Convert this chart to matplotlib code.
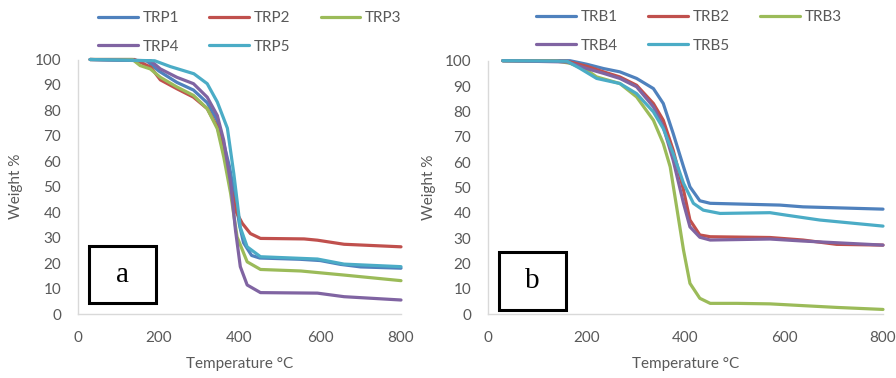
import matplotlib
matplotlib.use('Agg')
import matplotlib.pyplot as plt
from matplotlib.patches import Rectangle

# ---- panel a data (temperature °C, weight %) ----
trp1_t = [30, 170, 200, 245, 286, 320, 345, 361, 375, 390, 400, 410, 430, 450, 550, 600, 650, 700, 800]
trp1_w = [100, 99.5, 95.5, 91, 88, 83, 76, 67, 58, 45, 35, 28, 23, 22, 21.5, 21, 19.5, 18.5, 18]
trp2_t = [30, 140, 180, 204, 245, 286, 320, 345, 361, 378, 392, 407, 427, 452, 560, 593, 659, 800]
trp2_w = [100, 100, 97, 92, 88.5, 85.2, 80.7, 73.5, 64, 50, 40, 35.6, 31.6, 29.7, 29.5, 29, 27.4, 26.4]
trp3_t = [30, 135, 154, 179, 204, 245, 286, 320, 345, 361, 378, 394, 419, 452, 552, 659, 800]
trp3_w = [100, 100, 97.6, 96.3, 93, 89.2, 85.9, 80.7, 72.8, 61.7, 47.4, 30.3, 20.5, 17.5, 16.9, 15.3, 13.1]
trp4_t = [30, 180, 204, 245, 286, 320, 345, 361, 378, 390, 402, 419, 452, 593, 659, 800]
trp4_w = [100, 99.5, 96.3, 93, 90.5, 85.2, 78, 68.2, 51.4, 33, 18.6, 11.4, 8.4, 8.2, 6.8, 5.5]
trp5_t = [30, 190, 229, 287, 320, 345, 370, 386, 402, 419, 452, 593, 659, 800]
trp5_w = [100, 99.5, 97.2, 94.4, 90.5, 83.3, 73, 55, 34, 26.4, 22.5, 21.6, 19.6, 18.6]

# ---- panel b data ----
trb1_t = [30, 166, 200, 234, 267, 301, 335, 355, 375, 396, 409, 429, 450, 591, 638, 800]
trb1_w = [100, 100, 98.6, 96.9, 95.6, 93, 89, 83.1, 71.3, 58.1, 50.2, 44.7, 43.7, 43, 42.3, 41.4]
trb2_t = [30, 160, 200, 234, 267, 301, 335, 355, 375, 396, 409, 429, 450, 571, 638, 706, 800]
trb2_w = [100, 99.8, 97.8, 95.6, 93.6, 90.3, 83.1, 76.5, 64.7, 48.9, 37.1, 31.2, 30.5, 30.2, 29.2, 27.5, 27.2]
trb3_t = [30, 140, 166, 200, 220, 267, 301, 335, 355, 369, 382, 396, 409, 429, 450, 504, 571, 638, 706, 800]
trb3_w = [100, 99.8, 99, 96.3, 93.6, 91, 85.7, 76.5, 67.3, 58.1, 42.3, 25.2, 12.1, 6.2, 4.2, 4.2, 4, 3.3, 2.6, 1.8]
trb4_t = [30, 160, 200, 234, 267, 301, 335, 355, 375, 396, 409, 429, 450, 571, 638, 800]
trb4_w = [100, 99.5, 96.9, 95, 93, 89.7, 81.8, 73.9, 60.7, 43.7, 34.4, 30.3, 29.2, 29.6, 28.8, 27.2]
trb5_t = [30, 160, 186, 220, 267, 301, 335, 355, 375, 396, 416, 436, 470, 571, 605, 672, 800]
trb5_w = [100, 99.8, 97, 93, 91, 87, 79.8, 73.2, 63.4, 51.6, 43.7, 41, 39.7, 40, 39, 37.1, 34.7]

labels_a = ['TRP1', 'TRP2', 'TRP3', 'TRP4', 'TRP5']
labels_b = ['TRB1', 'TRB2', 'TRB3', 'TRB4', 'TRB5']
colors = ['#4F81BD', '#C0504D', '#9BBB59', '#8064A2', '#4BACC6']
x_ticks = [0, 200, 400, 600, 800]
y_ticks = [0, 10, 20, 30, 40, 50, 60, 70, 80, 90, 100]

txt = '#595959'
fs = 11
plt.rcParams['font.family'] = ['Lato', 'DejaVu Sans']
plt.rcParams['font.size'] = fs

fig = plt.figure(figsize=(8.96, 3.78), dpi=100)
W, H = 896, 378
ax_a = fig.add_axes([78 / W, 1 - 314 / H, 323 / W, 254.5 / H])
ax_b = fig.add_axes([488 / W, 1 - 314 / H, 395 / W, 253.3 / H])

series_a = [(trp1_t, trp1_w), (trp2_t, trp2_w), (trp3_t, trp3_w), (trp4_t, trp4_w), (trp5_t, trp5_w)]
series_b = [(trb1_t, trb1_w), (trb2_t, trb2_w), (trb3_t, trb3_w), (trb4_t, trb4_w), (trb5_t, trb5_w)]

def draw_panel(ax, series, labels, letter, box, ylab_x, legend_xy):
    handles = []
    for (t, w), lab, c in zip(series, labels, colors):
        h, = ax.plot(t, w, color=c, lw=2.3, label=lab, solid_joinstyle='round',
                     solid_capstyle='round', clip_on=False)
        handles.append(h)
    ax.set_xlim(0, 800)
    ax.set_ylim(0, 100)
    ax.set_xticks(x_ticks)
    ax.set_yticks(y_ticks)
    ax.tick_params(length=0, colors=txt, labelsize=fs)
    ax.tick_params(axis='x', pad=12)
    ax.tick_params(axis='y', pad=12)
    for s in ['top', 'right']:
        ax.spines[s].set_visible(False)
    for s in ['left', 'bottom']:
        ax.spines[s].set_color('#D9D9D9')
        ax.spines[s].set_linewidth(1)
    ax.set_xlabel('Temperature °C', color=txt, fontsize=fs)
    ax.set_ylabel('Weight %', color=txt, fontsize=fs)
    ax.xaxis.set_label_coords(0.5, -0.17)
    ax.yaxis.set_label_coords(ylab_x, 0.5)
    # letter box
    ax.add_patch(Rectangle((box[0], box[1]), box[2], box[3], transform=ax.transAxes,
                           fill=False, ec='black', lw=2.2, zorder=5))
    ax.text(box[0] + box[2] / 2, box[1] + box[3] / 2, letter, transform=ax.transAxes,
            ha='center', va='center', fontsize=21, family='Liberation Serif', color='black')
    order = [0, 3, 1, 4, 2]
    fig.legend([handles[i] for i in order], [labels[i] for i in order],
               loc='upper left', bbox_to_anchor=legend_xy, ncol=3, frameon=False,
               fontsize=fs, handlelength=2.6, handletextpad=0.3, columnspacing=2.0,
               labelspacing=0.95, borderpad=0, borderaxespad=0, labelcolor=txt)

draw_panel(ax_a, series_a, labels_a, 'a', (0.034, 0.043, 0.207, 0.224), -0.17,
           (98 / W, 1 - 11 / H))
draw_panel(ax_b, series_b, labels_b, 'b', (0.028, 0.016, 0.17, 0.229), -0.132,
           (536 / W, 1 - 10 / H))

fig.savefig('out.png', dpi=100)
